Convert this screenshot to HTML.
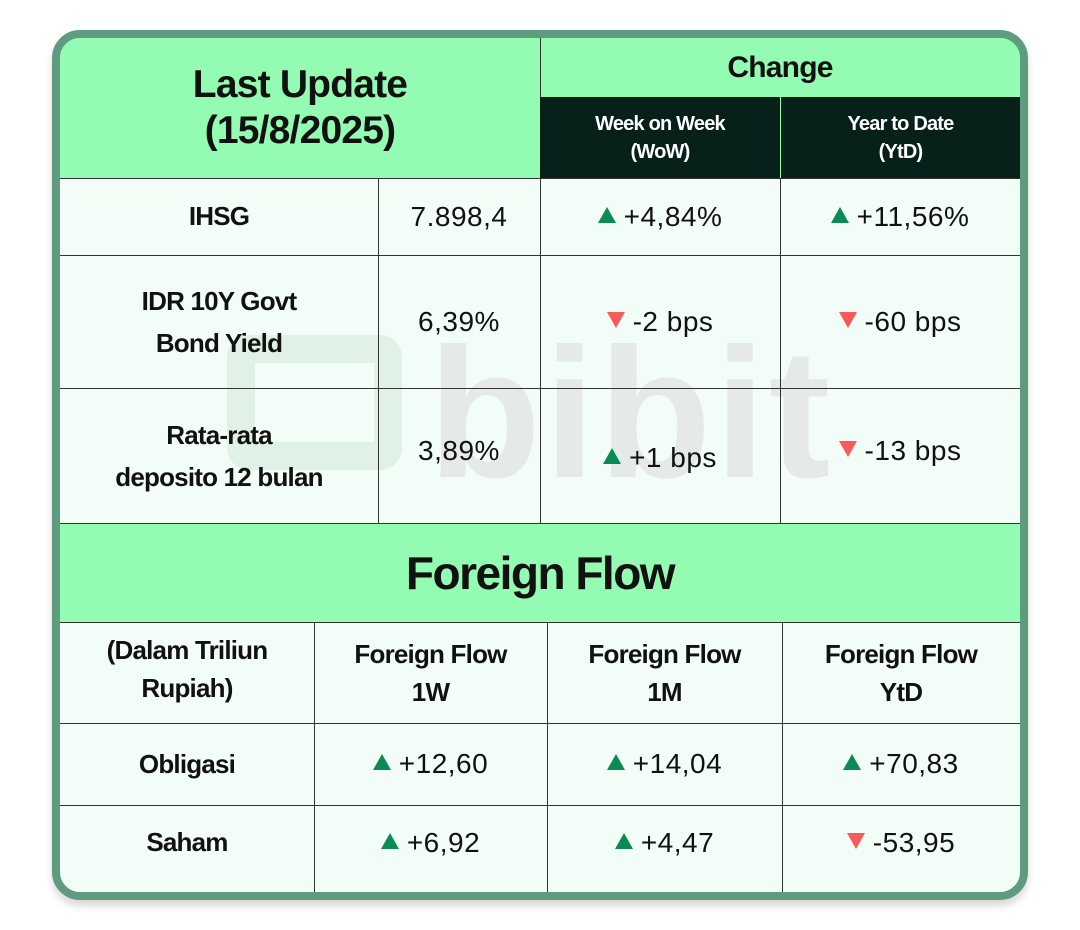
<!DOCTYPE html>
<html><head><meta charset="utf-8"><style>
*{margin:0;padding:0;box-sizing:border-box}
body{width:1080px;height:930px;background:#fff;font-family:"Liberation Sans",sans-serif;position:relative;overflow:hidden}
.card{position:absolute;left:52px;top:30px;width:976px;height:870px;border:8px solid #5f9c7f;border-radius:28px;background:#f3fdf7;overflow:hidden;box-shadow:0 6px 8px rgba(0,0,0,0.15)}
.a{position:absolute;display:flex;align-items:center;justify-content:center;text-align:center;color:#111}
.g{background:#93fbb2}
.d{background:#08201a;color:#fff}
.hl{position:absolute;height:1px;background:#333}
.vl{position:absolute;width:1px;background:#333}
.b{font-weight:bold;letter-spacing:-0.8px}
.v{font-size:28px;letter-spacing:0.5px}
.up{display:inline-block;width:0;height:0;border-left:9px solid transparent;border-right:9px solid transparent;border-bottom:16px solid #0a8a55;margin-right:8px;vertical-align:middle;position:relative;top:-2px}
.dn{display:inline-block;width:0;height:0;border-left:9px solid transparent;border-right:9px solid transparent;border-top:16px solid #f85a5a;margin-right:8px;vertical-align:middle;position:relative;top:-2px}
</style></head><body>
<div class="card">
<div style="position:absolute;left:167px;top:297px;width:175px;height:135px;border:28px solid #e0f1e5;border-radius:22px"></div>
<div style="position:absolute;left:368px;top:284px;font-size:185px;font-weight:bold;color:#e5eae6;letter-spacing:3px;line-height:1">bibit</div>

<div class="a g b" style="left:0;top:0;width:480px;height:140px;font-size:39px;line-height:46px">Last Update<br>(15/8/2025)</div>
<div class="a g b" style="left:480px;top:0;width:480px;height:59px;font-size:30px">Change</div>
<div class="a d b" style="left:480px;top:59px;width:240px;height:81px;font-size:20px;line-height:28px">Week on Week<br>(WoW)</div>
<div class="a d b" style="left:721px;top:59px;width:239px;height:81px;font-size:20px;line-height:28px">Year to Date<br>(YtD)</div>
<div style="position:absolute;left:720px;top:59px;width:1px;height:81px;background:#93fbb2"></div>
<div style="position:absolute;left:480px;top:0;width:1px;height:59px;background:#333"></div>

<div class="a b" style="left:0;top:140px;width:318px;height:77px;font-size:26px">IHSG</div>
<div class="a v" style="left:318px;top:140px;width:162px;height:77px">7.898,4</div>
<div class="a v" style="left:480px;top:140px;width:240px;height:77px"><span class="up"></span>+4,84%</div>
<div class="a v" style="left:720px;top:140px;width:240px;height:77px"><span class="up"></span>+11,56%</div>

<div class="a b" style="left:0;top:217px;width:318px;height:133px;font-size:26px;line-height:42px">IDR 10Y Govt<br>Bond Yield</div>
<div class="a v" style="left:318px;top:217px;width:162px;height:133px">6,39%</div>
<div class="a v" style="left:480px;top:217px;width:240px;height:133px"><span class="dn"></span>-2 bps</div>
<div class="a v" style="left:720px;top:217px;width:240px;height:133px"><span class="dn"></span>-60 bps</div>

<div class="a b" style="left:0;top:350px;width:318px;height:135px;font-size:26px;line-height:42px">Rata-rata<br>deposito 12 bulan</div>
<div class="a v" style="left:318px;top:350px;width:162px;height:125px">3,89%</div>
<div class="a v" style="left:480px;top:350px;width:240px;height:130px;padding-top:10px"><span class="up"></span>+1 bps</div>
<div class="a v" style="left:720px;top:350px;width:240px;height:125px"><span class="dn"></span>-13 bps</div>

<div class="hl" style="left:0;top:140px;width:960px"></div>
<div class="hl" style="left:0;top:217px;width:960px"></div>
<div class="hl" style="left:0;top:350px;width:960px"></div>
<div class="vl" style="left:318px;top:140px;height:345px"></div>
<div class="vl" style="left:480px;top:140px;height:345px"></div>
<div class="vl" style="left:720px;top:140px;height:345px"></div>

<div class="a g b" style="left:0;top:485px;width:960px;height:99px;font-size:46px;letter-spacing:-1.5px">Foreign Flow</div>
<div class="hl" style="left:0;top:485px;width:960px"></div>
<div class="hl" style="left:0;top:584px;width:960px"></div>

<div class="a b" style="left:0;top:584px;width:254px;height:101px;font-size:26px;line-height:38px;padding-bottom:8px">(Dalam Triliun<br>Rupiah)</div>
<div class="a b" style="left:254px;top:584px;width:233px;height:101px;font-size:26px;line-height:38px">Foreign Flow<br>1W</div>
<div class="a b" style="left:487px;top:584px;width:235px;height:101px;font-size:26px;line-height:38px">Foreign Flow<br>1M</div>
<div class="a b" style="left:722px;top:584px;width:238px;height:101px;font-size:26px;line-height:38px">Foreign Flow<br>YtD</div>

<div class="a b" style="left:0;top:685px;width:254px;height:82px;font-size:26px">Obligasi</div>
<div class="a v" style="left:254px;top:685px;width:233px;height:82px"><span class="up"></span>+12,60</div>
<div class="a v" style="left:487px;top:685px;width:235px;height:82px"><span class="up"></span>+14,04</div>
<div class="a v" style="left:722px;top:685px;width:238px;height:82px"><span class="up"></span>+70,83</div>

<div class="a b" style="left:0;top:767px;width:254px;height:75px;font-size:26px">Saham</div>
<div class="a v" style="left:254px;top:767px;width:233px;height:75px"><span class="up"></span>+6,92</div>
<div class="a v" style="left:487px;top:767px;width:235px;height:75px"><span class="up"></span>+4,47</div>
<div class="a v" style="left:722px;top:767px;width:238px;height:75px"><span class="dn"></span>-53,95</div>

<div class="hl" style="left:0;top:685px;width:960px"></div>
<div class="hl" style="left:0;top:767px;width:960px"></div>
<div class="vl" style="left:254px;top:584px;height:270px"></div>
<div class="vl" style="left:487px;top:584px;height:270px"></div>
<div class="vl" style="left:722px;top:584px;height:270px"></div>
</div>
</body></html>
